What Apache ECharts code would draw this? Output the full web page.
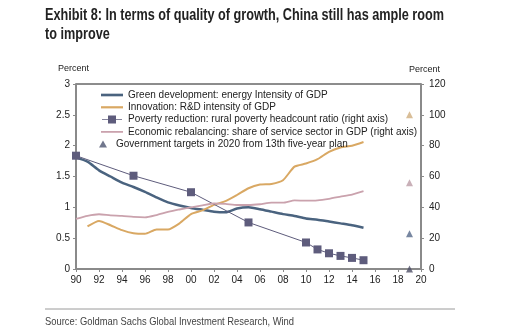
<!DOCTYPE html>
<html>
<head>
<meta charset="utf-8">
<script src="https://cdn.jsdelivr.net/npm/echarts@6/dist/echarts.min.js"></script>
<style>
  html, body { margin: 0; padding: 0; background: #ffffff; }
  #chart { width: 507px; height: 336px; }
</style>
</head>
<body>
<div id="chart"></div>
<script>
// Years for the annual series
const years = [1990, 1991, 1992, 1993, 1994, 1995, 1996, 1997, 1998, 1999,
               2000, 2001, 2002, 2003, 2004, 2005, 2006, 2007, 2008, 2009,
               2010, 2011, 2012, 2013, 2014, 2015];

// Energy intensity of GDP (left axis)
const energyIntensity = [1.81, 1.74, 1.60, 1.50, 1.40, 1.33, 1.25, 1.16, 1.08, 1.03,
                         0.99, 0.96, 0.93, 0.92, 0.98, 1.00, 0.97, 0.93, 0.89, 0.86,
                         0.82, 0.80, 0.77, 0.74, 0.71, 0.67];

// R&D intensity of GDP (left axis), starts 1991
const rdYears = years.slice(1);
const rdIntensity = [0.69, 0.78, 0.71, 0.63, 0.58, 0.57, 0.64, 0.64, 0.74,
                     0.89, 0.95, 1.04, 1.10, 1.20, 1.31, 1.37, 1.38, 1.44, 1.66,
                     1.71, 1.78, 1.90, 1.97, 2.00, 2.06];

// Rural poverty headcount ratio (right axis)
const povertyYears = [1990, 1995, 2000, 2005, 2010, 2011, 2012, 2013, 2014, 2015];
const povertyRatio = [73.5, 60.5, 49.8, 30.2, 17.2, 12.7, 10.2, 8.5, 7.2, 5.7];

// Service sector share of GDP (right axis)
const serviceShare = [32.5, 34.5, 35.5, 34.8, 34.5, 33.8, 33.5, 35.0, 37.0, 38.6,
                      40.0, 41.3, 42.5, 42.2, 41.5, 41.5, 42.0, 43.0, 43.0, 44.5,
                      44.3, 44.5, 45.5, 46.9, 48.3, 50.5];

// 2020 targets from the 13th five-year plan, expressed on the right-axis scale
const targetYear = 2019;
const targetValues = [100, 56, 22.8, 0];
const targetColors = ['#cfae7e', '#bb9ca6', '#56698a', '#4d4f66'];

// Axis tick definitions
const xTicks = { min: 1990, max: 2020, interval: 2 };
const leftTicks = { min: 0, max: 3, interval: 0.5 };
const rightTicks = { min: 0, max: 120, interval: 20 };

const seriesNames = [
  'Green development: energy Intensity of GDP',
  'Innovation: R&D intensity of GDP',
  'Poverty reduction: rural poverty headcount ratio (right axis)',
  'Economic rebalancing: share of service sector in GDP (right axis)',
  'Government targets in 2020 from 13th five-year plan'
];

const titleText = 'Exhibit 8: In terms of quality of growth, China still has ample room\nto improve';
const sourceText = 'Source: Goldman Sachs Global Investment Research, Wind';

const pair = (xs, ys) => xs.map((x, i) => [x, ys[i]]);

// Horizontal squeeze so a regular face reads like a condensed one
function squeeze(text, font, targetWidth) {
  const ctx = document.createElement('canvas').getContext('2d');
  ctx.font = font;
  const w = Math.max.apply(null, text.split('\n').map(t => ctx.measureText(t).width));
  return targetWidth / w;
}

const titleFont = 'bold 16px "Liberation Sans", Arial, sans-serif';
const sourceFont = '11.5px "Liberation Sans", Arial, sans-serif';
const titleScale = squeeze(titleText, titleFont, 399);
const sourceScale = squeeze(sourceText, sourceFont, 249);

// Legend icons: thin bars for plain lines, bar + square for the marked line
const lineIcon = h => 'path://M0,0H100V' + h + 'H0Z';
const markedLineIcon = 'path://M0,48H100V52H0Z M30,30H70V70H30Z';

const chart = echarts.init(document.getElementById('chart'), null, { renderer: 'canvas' });

const tickFont = { fontFamily: 'Liberation Sans, Arial, sans-serif', fontSize: 10, color: '#222' };
const legendText = { fontFamily: 'Liberation Sans, Arial, sans-serif', fontSize: 10, color: '#222' };

chart.setOption({
  backgroundColor: '#ffffff',
  animation: false,
  grid: {
    left: 76, right: 86, top: 84, bottom: 67,
    show: true, borderColor: '#1a1a1a', borderWidth: 1, backgroundColor: 'transparent'
  },
  xAxis: {
    type: 'value',
    min: xTicks.min, max: xTicks.max, interval: xTicks.interval,
    axisLine: { show: true, lineStyle: { color: '#8a8a8a', width: 2 } },
    axisTick: { show: true, length: 3, lineStyle: { color: '#8a8a8a' } },
    splitLine: { show: false },
    axisLabel: Object.assign({ margin: 6, formatter: v => String(v % 100).padStart(2, '0') }, tickFont)
  },
  yAxis: [
    {
      type: 'value', position: 'left',
      min: leftTicks.min, max: leftTicks.max, interval: leftTicks.interval,
      axisLine: { show: true, lineStyle: { color: '#8a8a8a', width: 2 } },
      axisTick: { show: true, length: 3, lineStyle: { color: '#8a8a8a' } },
      splitLine: { show: false },
      axisLabel: Object.assign({ margin: 6 }, tickFont)
    },
    {
      type: 'value', position: 'right',
      min: rightTicks.min, max: rightTicks.max, interval: rightTicks.interval,
      axisLine: { show: true, lineStyle: { color: '#8a8a8a', width: 2 } },
      axisTick: { show: true, length: 3, lineStyle: { color: '#8a8a8a' } },
      splitLine: { show: false },
      axisLabel: Object.assign({ margin: 8 }, tickFont)
    }
  ],
  legend: [
    {
      orient: 'vertical',
      left: 101, top: 90, padding: 0,
      itemWidth: 22, itemHeight: 8, itemGap: 2.3,
      textStyle: legendText,
      data: [
        { name: seriesNames[0], icon: lineIcon(12) },
        { name: seriesNames[1], icon: lineIcon(10) },
        { name: seriesNames[2], icon: markedLineIcon },
        { name: seriesNames[3], icon: lineIcon(8) }
      ]
    },
    {
      orient: 'vertical',
      left: 99, top: 139, padding: 0,
      itemWidth: 8, itemHeight: 7,
      textStyle: Object.assign({ padding: [0, 0, 0, 4] }, legendText),
      data: [{ name: seriesNames[4], icon: 'triangle' }]
    }
  ],
  series: [
    {
      name: seriesNames[0], type: 'line', yAxisIndex: 0,
      data: pair(years, energyIntensity),
      symbol: 'none', smooth: 0.2,
      lineStyle: { color: '#4a637f', width: 2.5 },
      itemStyle: { color: '#4a637f' }
    },
    {
      name: seriesNames[1], type: 'line', yAxisIndex: 0,
      data: pair(rdYears, rdIntensity),
      symbol: 'none', smooth: 0.2,
      lineStyle: { color: '#d9a863', width: 2 },
      itemStyle: { color: '#d9a863' }
    },
    {
      name: seriesNames[2], type: 'line', yAxisIndex: 1,
      data: pair(povertyYears, povertyRatio),
      symbol: 'rect', symbolSize: 8,
      lineStyle: { color: '#5e5c7c', width: 1 },
      itemStyle: { color: '#5e5c7c' }
    },
    {
      name: seriesNames[3], type: 'line', yAxisIndex: 1,
      data: pair(years, serviceShare),
      symbol: 'none', smooth: 0.2,
      lineStyle: { color: '#caa2ad', width: 1.8 },
      itemStyle: { color: '#caa2ad' }
    },
    {
      name: seriesNames[4], type: 'scatter', yAxisIndex: 1,
      symbol: 'triangle', symbolSize: 7,
      itemStyle: { color: '#4d5570' },
      data: targetValues.map((v, i) => ({ value: [targetYear, v], itemStyle: { color: targetColors[i] } }))
    }
  ],
  graphic: [
    {
      type: 'text', x: 45, y: 6, scaleX: titleScale,
      style: { text: titleText, font: titleFont, fill: '#222', lineHeight: 19 }
    },
    {
      type: 'text', left: 58, top: 64,
      style: { text: 'Percent', font: '9px "Liberation Sans", Arial, sans-serif', fill: '#222' }
    },
    {
      type: 'text', left: 409, top: 65,
      style: { text: 'Percent', font: '9px "Liberation Sans", Arial, sans-serif', fill: '#222' }
    },
    {
      type: 'line',
      shape: { x1: 45, y1: 309, x2: 455, y2: 309 },
      style: { stroke: '#9a9a9a', lineWidth: 1 }
    },
    {
      type: 'text', x: 45, y: 316, scaleX: sourceScale,
      style: { text: sourceText, font: sourceFont, fill: '#444' }
    }
  ]
});
</script>
</body>
</html>
